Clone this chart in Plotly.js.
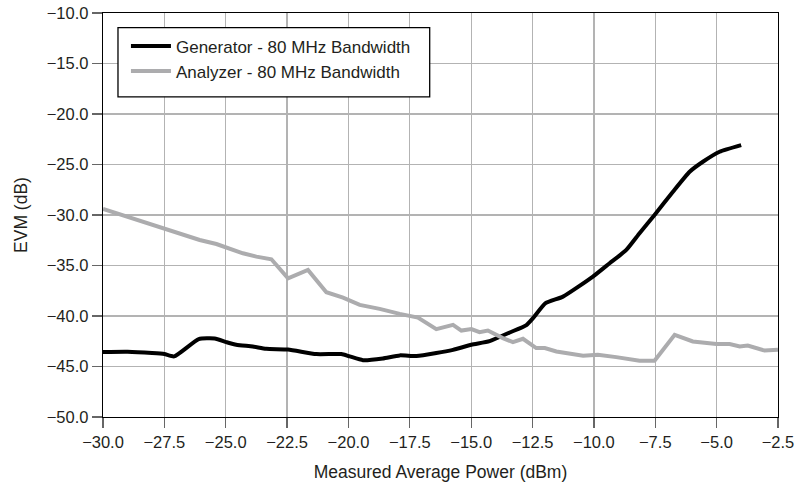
<!DOCTYPE html>
<html>
<head>
<meta charset="utf-8">
<script src="https://cdn.plot.ly/plotly-3.0.1.min.js"></script>
<style>
  html, body { margin: 0; padding: 0; background: #fff; }
  #chart { width: 800px; height: 482px; }
</style>
</head>
<body>
<div id="chart"></div>
<script>
// Generator - 80 MHz Bandwidth
const genX = [-30, -29, -28, -27.5, -27.1, -26.1, -25.45, -24.97, -24.57, -23.9, -23.35, -22.46, -21.31, -20.29, -19.95, -19.41, -18.6, -17.91, -17.23, -16.42, -15.74, -14.99, -14.25, -13.43, -12.75, -12.48, -11.97, -11.26, -10.04, -9.36, -8.68, -8.14, -7.53, -6.78, -6.1, -5.56, -4.88, -4.0];
const genY = [-43.57, -43.55, -43.67, -43.77, -44.0, -42.29, -42.23, -42.59, -42.85, -43.02, -43.25, -43.32, -43.77, -43.77, -44.0, -44.37, -44.2, -43.9, -43.97, -43.67, -43.35, -42.85, -42.49, -41.63, -40.9, -40.21, -38.73, -38.08, -36.1, -34.78, -33.46, -31.81, -30.0, -27.7, -25.72, -24.73, -23.74, -23.08];

// Analyzer - 80 MHz Bandwidth
const anaX = [-30, -28.78, -27.42, -26.06, -25.38, -24.30, -23.75, -23.14, -22.46, -21.65, -20.9, -20.22, -19.54, -18.73, -17.91, -17.17, -16.42, -15.74, -15.4, -14.99, -14.66, -14.32, -13.71, -13.3, -12.89, -12.35, -12.0, -11.53, -10.44, -9.84, -9.09, -8.14, -7.53, -6.71, -5.97, -5.01, -4.47, -4.06, -3.73, -3.05, -2.5];
const anaY = [-29.4, -30.33, -31.41, -32.47, -32.87, -33.79, -34.12, -34.38, -36.26, -35.44, -37.65, -38.18, -38.9, -39.29, -39.79, -40.15, -41.3, -40.88, -41.44, -41.3, -41.6, -41.44, -42.19, -42.59, -42.26, -43.18, -43.18, -43.51, -43.94, -43.84, -44.07, -44.43, -44.43, -41.86, -42.52, -42.78, -42.78, -43.02, -42.92, -43.42, -43.35];

const seriesNames = ["Generator - 80 MHz Bandwidth", "Analyzer - 80 MHz Bandwidth"];
const xTitle = "Measured Average Power (dBm)";
const yTitle = "EVM (dB)";

const FONT = '"Liberation Sans", Arial, Helvetica, sans-serif';
const TXT = '#231f20';

const traces = [
  {
    x: genX, y: genY, name: seriesNames[0], type: 'scatter', mode: 'lines',
    line: { color: '#000000', width: 4, shape: 'spline', smoothing: 0.5 }
  },
  {
    x: anaX, y: anaY, name: seriesNames[1], type: 'scatter', mode: 'lines',
    line: { color: '#acacae', width: 4 }
  }
];

const axisCommon = {
  showgrid: true, gridcolor: '#b3b3b3', gridwidth: 1.2,
  showline: true, linecolor: '#000', linewidth: 1.3, mirror: true,
  ticks: 'outside', ticklen: 10, tickwidth: 1.2, tickcolor: '#666',
  tickfont: { family: FONT, size: 16.5, color: TXT },
  zeroline: false, tickformat: '.1f'
};

const layout = {
  width: 800, height: 482,
  margin: { l: 103.3, r: 21.7, t: 12.7, b: 64.7 },
  paper_bgcolor: '#fff', plot_bgcolor: '#fff',
  font: { family: FONT, color: TXT, size: 16.5 },
  xaxis: Object.assign({}, axisCommon, {
    range: [-30, -2.5], dtick: 2.5, tick0: -30,
    title: { text: xTitle, font: { family: FONT, size: 17.5, color: TXT }, standoff: 17 }
  }),
  yaxis: Object.assign({}, axisCommon, {
    range: [-50, -10], dtick: 5, tick0: -50,
    title: { text: yTitle, font: { family: FONT, size: 17.5, color: TXT }, standoff: 14 }
  }),
  showlegend: true,
  legend: {
    x: 0.034, y: 0.962, xanchor: 'left', yanchor: 'top',
    bgcolor: 'rgba(0,0,0,0)', borderwidth: 0,
    itemwidth: 40,
    font: { family: FONT, size: 17, color: TXT },
    tracegroupgap: 0
  },
  shapes: [
    {
      type: 'rect', xref: 'paper', yref: 'paper',
      x0: 0.0222, x1: 0.484, y0: 0.7924, y1: 0.9639,
      line: { color: '#000', width: 1.3 }, fillcolor: '#fff', layer: 'above'
    }
  ]
};

Plotly.newPlot('chart', traces, layout, { staticPlot: true, displayModeBar: false });
</script>
</body>
</html>
